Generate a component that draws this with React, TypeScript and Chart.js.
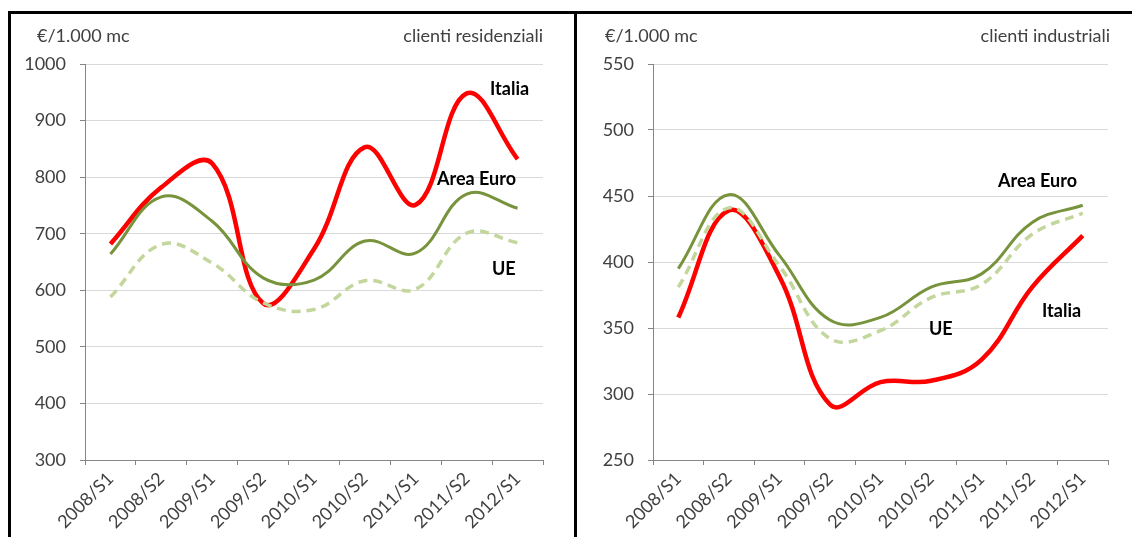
import React, { useEffect, useRef } from "react";
import { Chart, registerables } from "chart.js";

Chart.register(...registerables);

const categories = ["2008/S1", "2008/S2", "2009/S1", "2009/S2", "2010/S1", "2010/S2", "2011/S1", "2011/S2", "2012/S1"];

const resItalia = [682, 782, 824, 577, 673, 853, 751, 948, 832];
const resEuro = [664, 765, 722, 622, 618, 687, 666, 770, 745];
const resUE = [588, 681, 648, 578, 566, 617, 602, 701, 684];

const indItalia = [358, 439, 389, 292, 309, 310, 326, 381, 420];
const indEuro = [395, 451, 405, 356, 358, 381, 391, 430, 443];
const indUE = [381, 441, 397, 342, 348, 373, 383, 421, 437];

const resTicks = { min: 300, max: 1000, step: 100 };
const indTicks = { min: 250, max: 550, step: 50 };

const FONT = "Lato, 'Open Sans', sans-serif";
const TEXT = "#404040";
const AXIS = "#868686";
const GRID = "#d9d9d9";

type PanelProps = {
  italia: number[];
  euro: number[];
  ue: number[];
  ticks: { min: number; max: number; step: number };
  width: number;
  height: number;
  areaLeft: number;
  areaRight: number;
  areaTop: number;
  areaBottom: number;
};

function Panel(p: PanelProps) {
  const ref = useRef<HTMLCanvasElement | null>(null);
  useEffect(() => {
    if (!ref.current) return;
    const chart = new Chart(ref.current, {
      type: "line",
      data: {
        labels: categories,
        datasets: [
          {
            label: "UE",
            data: p.ue,
            borderColor: "#C3D69B",
            borderWidth: 3.5,
            borderDash: [9, 6],
            pointRadius: 0,
            tension: 0.4,
            fill: false,
          },
          {
            label: "Area Euro",
            data: p.euro,
            borderColor: "#77933C",
            borderWidth: 3,
            pointRadius: 0,
            tension: 0.4,
            fill: false,
          },
          {
            label: "Italia",
            data: p.italia,
            borderColor: "#FF0000",
            borderWidth: 4.5,
            pointRadius: 0,
            tension: 0.4,
            fill: false,
          },
        ],
      },
      options: {
        animation: false,
        responsive: false,
        maintainAspectRatio: false,
        layout: {
          padding: { left: 0, top: p.areaTop, right: p.width - p.areaRight, bottom: 0 },
        },
        plugins: { legend: { display: false }, tooltip: { enabled: false }, title: { display: false } },
        scales: {
          x: {
            type: "category",
            offset: true,
            grid: {
              offset: true,
              drawOnChartArea: false,
              drawTicks: true,
              tickLength: 5,
              tickColor: AXIS,
            },
            border: { color: AXIS, width: 1 },
            ticks: {
              minRotation: 45,
              maxRotation: 45,
              autoSkip: false,
              padding: 3,
              color: TEXT,
              font: { family: FONT, size: 18 },
            },
            afterFit: (s: any) => {
              s.height = p.height - p.areaBottom;
            },
          },
          y: {
            min: p.ticks.min,
            max: p.ticks.max,
            grid: {
              color: GRID,
              tickColor: AXIS,
              tickLength: 5,
              drawTicks: true,
            },
            border: { color: AXIS, width: 1 },
            ticks: {
              stepSize: p.ticks.step,
              padding: 14,
              color: TEXT,
              font: { family: FONT, size: 18 },
              callback: (v: any) => String(v),
            },
            afterFit: (s: any) => {
              s.width = p.areaLeft;
            },
          },
        },
      },
    });
    return () => chart.destroy();
  }, []);
  return <canvas ref={ref} width={p.width} height={p.height} style={{ width: p.width, height: p.height, display: "block" }} />;
}

const txt = (left: number, top: number, s: string, bold = false, align: "left" | "right" = "left") => (
  <div
    style={{
      position: "absolute",
      top,
      ...(align === "left" ? { left } : { right: left }),
      fontFamily: FONT,
      fontSize: 18,
      fontWeight: bold ? 700 : 400,
      color: bold ? "#000" : TEXT,
      lineHeight: "20px",
      whiteSpace: "nowrap",
    }}
  >
    {s}
  </div>
);

export default function App() {
  return (
    <div style={{ position: "fixed", left: 0, top: 0, width: 1132, height: 537, background: "#fff", overflow: "hidden" }}>
      <div style={{ position: "absolute", left: 8, top: 11, width: 1200, height: 600, border: "3px solid #000", boxSizing: "border-box" }} />
      <div style={{ position: "absolute", left: 574, top: 11, width: 3, height: 600, background: "#000" }} />
      <div style={{ position: "absolute", left: 11, top: 14 }}>
        <Panel
          italia={resItalia}
          euro={resEuro}
          ue={resUE}
          ticks={resTicks}
          width={563}
          height={523}
          areaLeft={74}
          areaRight={532}
          areaTop={50}
          areaBottom={446}
        />
      </div>
      <div style={{ position: "absolute", left: 577, top: 14 }}>
        <Panel
          italia={indItalia}
          euro={indEuro}
          ue={indUE}
          ticks={indTicks}
          width={555}
          height={523}
          areaLeft={76}
          areaRight={531}
          areaTop={50}
          areaBottom={446}
        />
      </div>
      {txt(37, 25, "€/1.000 mc")}
      {txt(1132 - 543, 25, "clienti residenziali", false, "right")}
      {txt(605, 25, "€/1.000 mc")}
      {txt(1132 - 1110, 25, "clienti industriali", false, "right")}
      {txt(490, 78, "Italia", true)}
      {txt(437, 168, "Area Euro", true)}
      {txt(492, 258, "UE", true)}
      {txt(998, 170, "Area Euro", true)}
      {txt(929, 318, "UE", true)}
      {txt(1042, 300, "Italia", true)}
    </div>
  );
}
